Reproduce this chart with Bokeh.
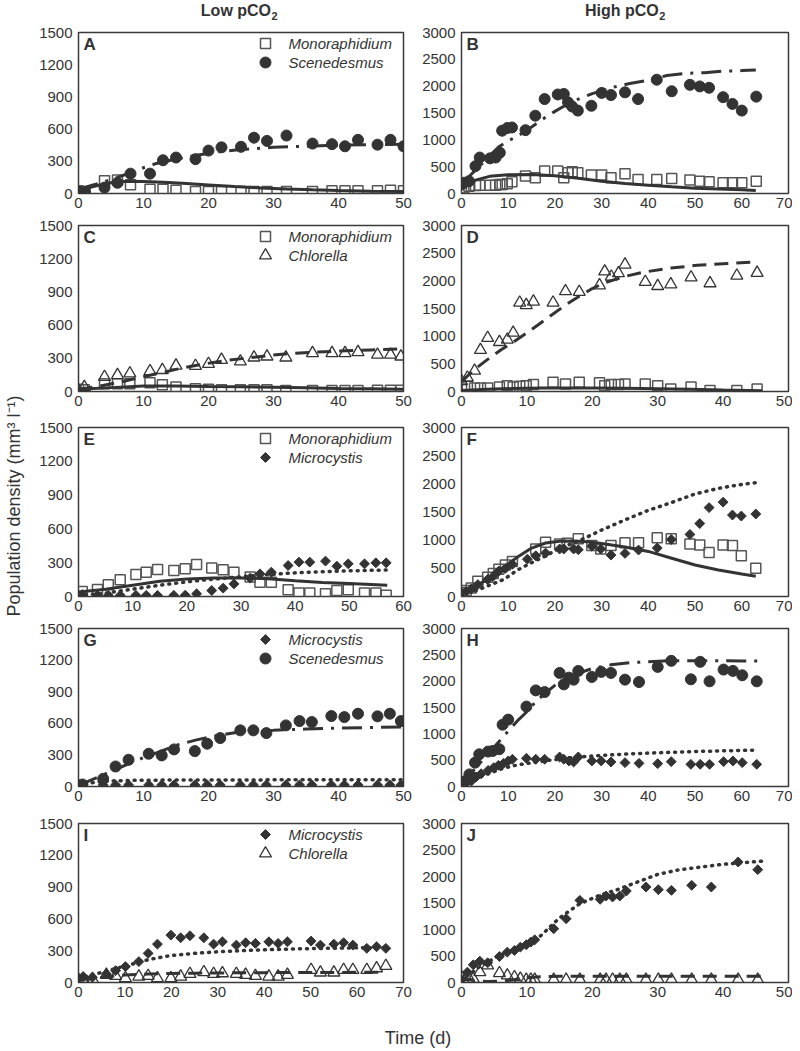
import math
from bokeh.plotting import figure
from bokeh.models import Range1d, SingleIntervalTicker, Label
from bokeh.layouts import row, column
from bokeh.embed import file_html
from bokeh.resources import INLINE

FONT = "Liberation Sans"
INK = "#333333"
SQ = "#555555"

# ---------------- Panel A (Low pCO2: Monoraphidium + Scenedesmus) ----------------
a_x = [0, 1, 4, 6, 8, 11, 13, 15, 18, 20, 22, 25, 27, 29, 32, 36, 39, 41, 43, 46, 48, 50]
a_scen_y = [20, 10, 55, 100, 185, 185, 310, 335, 320, 400, 430, 435, 520, 490, 540, 465, 460, 440, 500, 455, 500, 440]
a_mono_y = [25, 15, 118, 125, 81, 40, 40, 31, 19, 19, 19, 19, 19, 19, 19, 19, 25, 25, 25, 25, 31, 25]
a_scen_fit_x = [0, 2, 4, 6, 8, 10, 12, 15, 18, 21, 25, 30, 35, 40, 45, 50]
a_scen_fit_y = [40, 75, 110, 150, 195, 240, 280, 320, 355, 385, 410, 430, 440, 450, 455, 460]
a_mono_fit_x = [0, 2, 4, 6, 8, 10, 13, 16, 20, 24, 28, 32, 36, 40, 45, 50]
a_mono_fit_y = [30, 60, 90, 110, 115, 112, 105, 95, 80, 65, 52, 42, 34, 28, 22, 18]

# ---------------- Panel B (High pCO2: Monoraphidium + Scenedesmus) ----------------
b_x = [0, 0.5, 1.6, 3, 3.9, 6.1, 7.3, 8.2, 8.7, 9.8, 10.8, 13.7, 15.8, 17.8, 20.6, 21.9, 22.8,
       23.7, 24.9, 27.8, 30, 32, 35, 37.8, 41.8, 45, 48.9, 51, 53, 56, 58, 60, 63.1]
b_scen_y = [170, 200, 230, 510, 670, 655, 670, 760, 1170, 1220, 1230, 1180, 1450, 1760, 1845, 1855, 1700,
            1620, 1545, 1635, 1875, 1835, 1885, 1760, 2120, 1905, 2025, 1995, 1970, 1795, 1670, 1545, 1805]
b_mono_y = [75, 105, 135, 150, 155, 155, 155, 170, 170, 180, 220, 325, 295, 420, 420, 295, 385,
            405, 385, 345, 345, 295, 370, 260, 260, 280, 250, 230, 220, 200, 200, 200, 230]
b_scen_fit_x = [0, 2, 4, 6, 8, 10, 12, 14, 16, 18, 20, 22, 25, 28, 32, 36, 40, 44, 48, 52, 56, 60, 63]
b_scen_fit_y = [150, 350, 520, 700, 870, 980, 1070, 1180, 1300, 1420, 1530, 1630, 1760, 1860, 1970, 2050,
                2110, 2200, 2240, 2250, 2280, 2290, 2300]
b_mono_fit_x = [0, 3, 6, 10, 15, 20, 25, 30, 35, 40, 45, 50, 55, 60, 63]
b_mono_fit_y = [120, 250, 320, 350, 355, 330, 285, 230, 185, 155, 125, 100, 85, 70, 55]

# ---------------- Panel C (Low pCO2: Monoraphidium + Chlorella) ----------------
c_x = [0, 0.9, 4, 6, 7.9, 11, 12.9, 15, 18, 20, 22, 24.9, 27, 29, 31.9, 36, 39, 41, 43, 46, 48, 49.6]
c_chlo_y = [10, 40, 132, 148, 163, 184, 194, 234, 231, 249, 286, 271, 307, 316, 307, 347, 347, 347, 356, 332, 332, 316]
c_mono_y = [20, 15, 70, 70, 70, 80, 60, 40, 25, 20, 15, 15, 15, 15, 10, 10, 10, 10, 10, 12, 12, 12]
c_chlo_fit_x = [0, 3, 6, 9, 12, 15, 18, 21, 24, 27, 30, 33, 36, 40, 45, 50]
c_chlo_fit_y = [20, 45, 80, 120, 160, 200, 235, 265, 290, 310, 330, 345, 355, 365, 375, 385]
c_mono_fit_x = [0, 5, 10, 15, 20, 25, 30, 35, 40, 45, 50]
c_mono_fit_y = [20, 35, 50, 50, 45, 42, 38, 34, 28, 24, 20]

# ---------------- Panel D (High pCO2: Monoraphidium + Chlorella) ----------------
d_x = [0, 0.9, 2, 2.9, 4, 5.8, 7, 7.9, 8.9, 9.9, 11, 14, 15.9, 18, 21.1, 21.9, 22.9, 24, 25, 28.1,
       30, 32, 35.1, 38, 42.1, 45.2]
d_chlo_y = [187, 250, 375, 750, 969, 894, 937, 1062, 1606, 1562, 1625, 1606, 1812, 1800, 1919, 2169,
            2075, 2137, 2294, 1981, 1906, 1937, 2062, 1956, 2094, 2144]
d_mono_y = [62, 94, 62, 62, 62, 81, 106, 81, 94, 106, 125, 169, 137, 169, 156, 106, 125, 125, 137, 137,
            106, 44, 81, 19, 19, 44]
d_chlo_fit_x = [0, 2, 4, 6, 8, 10, 12, 14, 16, 18, 20, 22, 25, 28, 32, 36, 40, 45]
d_chlo_fit_y = [180, 400, 580, 750, 900, 1060, 1230, 1400, 1570, 1720, 1860, 1970, 2080, 2160, 2230, 2280, 2310, 2340]
d_mono_fit_x = [0, 4, 8, 12, 16, 20, 25, 30, 35, 40, 46]
d_mono_fit_y = [20, 40, 55, 62, 65, 65, 60, 50, 40, 25, 15]

# ---------------- Panel E (Low pCO2: Monoraphidium + Microcystis) ----------------
e_x = [0.7, 3.5, 5.5, 7.7, 10.6, 12.5, 14.6, 17.6, 19.7, 21.8, 24.6, 26.7, 28.7, 31.7, 33.5, 35.6,
       38.7, 40.7, 42.7, 45.6, 47.7, 49.8, 52.8, 54.9, 56.8]
e_mono_y = [44, 62, 104, 148, 195, 216, 240, 231, 246, 284, 252, 237, 216, 172, 127, 127, 59, 30, 30,
            24, 53, 59, 30, 30, 12]
e_micro_y = [18, 10, 10, 10, 10, 10, 10, 10, 12, 24, 53, 74, 112, 163, 201, 216, 275, 305, 305, 314,
             269, 290, 290, 299, 299]
e_mono_fit_x = [0, 5, 10, 15, 20, 25, 30, 35, 40, 45, 50, 57]
e_mono_fit_y = [40, 65, 100, 135, 155, 165, 165, 158, 140, 125, 115, 100]
e_micro_fit_x = [0, 5, 10, 15, 20, 25, 30, 35, 40, 45, 50, 57]
e_micro_fit_y = [10, 30, 65, 100, 130, 155, 175, 195, 210, 220, 228, 235]

# ---------------- Panel F (High pCO2: Monoraphidium + Microcystis) ----------------
f_mono_x = [0, 1, 2.1, 3.5, 5.6, 6.8, 8, 9.4, 10.9, 15.9, 18, 21, 22.6, 25, 27.9, 29.8, 32, 35, 37.9,
            41.9, 44.9, 48.9, 51, 53, 56, 58, 59.9, 63]
f_mono_y = [72, 108, 151, 271, 343, 410, 482, 560, 620, 843, 964, 934, 946, 1024, 904, 843, 904, 952, 952,
            1042, 1024, 934, 916, 783, 916, 904, 723, 500]
f_micro_x = [0, 1, 2.1, 3.5, 5.6, 6.8, 8, 9.4, 10.9, 14.1, 15.9, 18, 21, 21.9, 24, 25, 27.9, 29.8, 32,
             35, 37.9, 41.9, 44.9, 48.9, 51, 53, 56, 58, 59.9, 63]
f_micro_y = [72, 90, 133, 211, 301, 361, 452, 500, 572, 663, 723, 771, 843, 843, 843, 831, 892, 843, 735,
             765, 825, 861, 1012, 1102, 1295, 1578, 1675, 1446, 1428, 1464]
f_mono_fit_x = [0, 3, 6, 9, 12, 15, 18, 21, 24, 27, 30, 35, 40, 45, 50, 55, 60, 63]
f_mono_fit_y = [80, 180, 330, 520, 700, 860, 950, 980, 985, 970, 940, 880, 800, 680, 560, 470, 400, 360]
f_micro_fit_x = [0, 3, 6, 9, 12, 15, 18, 21, 24, 27, 30, 35, 40, 45, 50, 55, 60, 63]
f_micro_fit_y = [60, 100, 200, 300, 470, 600, 720, 860, 950, 1060, 1180, 1360, 1530, 1670, 1820, 1920, 1990, 2020]

# ---------------- Panel G (Low pCO2: Microcystis + Scenedesmus) ----------------
g_x = [0, 0.6, 3.8, 5.7, 7.7, 10.8, 12.8, 14.7, 17.9, 19.8, 21.8, 24.9, 26.9, 28.9, 31.9, 34, 35.9,
       38.9, 40.9, 43, 46, 47.9, 49.6]
g_scen_y = [10, 19, 73, 190, 254, 311, 295, 352, 336, 406, 460, 533, 533, 507, 580, 621, 612, 669, 659,
            691, 666, 691, 621]
g_micro_y = [10, 15, 15, 15, 15, 15, 15, 15, 15, 15, 15, 15, 15, 15, 15, 15, 15, 15, 15, 15, 15, 15, 15]
g_scen_fit_x = [0, 3, 6, 9, 12, 15, 18, 21, 24, 27, 30, 35, 40, 45, 50]
g_scen_fit_y = [10, 90, 170, 250, 320, 390, 440, 480, 510, 530, 535, 545, 555, 560, 565]
g_micro_fit_x = [0, 2, 4, 6, 10, 20, 30, 40, 50]
g_micro_fit_y = [10, 35, 50, 55, 60, 62, 63, 63, 63]

# ---------------- Panel H (High pCO2: Microcystis + Scenedesmus) ----------------
h_scen_x = [0, 0.8, 1.7, 2.9, 3.8, 5.7, 6.7, 8.1, 8.8, 10, 13.9, 15.9, 17.8, 21, 21.9, 23, 24, 25, 27.9,
            29.9, 32, 35, 38, 42, 44.9, 49.1, 51.1, 53.1, 56.1, 58.1, 60.1, 63.2]
h_scen_y = [51, 102, 230, 453, 612, 663, 676, 708, 1174, 1270, 1518, 1825, 1793, 2156, 1939, 2067, 2029,
            2194, 2080, 2176, 2156, 2029, 1984, 2271, 2386, 2035, 2367, 1997, 2220, 2195, 2112, 1997]
h_micro_x = [0, 1, 2.1, 3.1, 4.2, 5.7, 6.9, 7.9, 9, 10, 10.9, 13.9, 15.9, 17.8, 21, 21.9, 23, 24, 25,
             27.9, 29.9, 32, 35, 38, 42, 44.9, 49.1, 51.1, 53.1, 56.1, 58.1, 60.1, 63.2]
h_micro_y = [51, 70, 102, 179, 242, 306, 357, 402, 440, 485, 517, 536, 517, 517, 561, 517, 485, 466, 561,
             485, 485, 466, 453, 440, 434, 472, 421, 421, 421, 472, 485, 453, 421]
h_scen_fit_x = [0, 2, 4, 6, 8, 10, 12, 14, 16, 18, 20, 22, 25, 28, 32, 36, 40, 45, 50, 55, 60, 64]
h_scen_fit_y = [40, 250, 450, 650, 850, 1050, 1250, 1420, 1620, 1780, 1920, 2030, 2150, 2240, 2310, 2350,
                2370, 2390, 2390, 2390, 2385, 2380]
h_micro_fit_x = [0, 3, 6, 9, 12, 15, 18, 21, 25, 30, 35, 40, 45, 50, 55, 60, 63]
h_micro_fit_y = [50, 150, 250, 350, 410, 450, 490, 520, 560, 590, 615, 635, 650, 665, 675, 685, 690]

# ---------------- Panel I (Low pCO2: Microcystis + Chlorella) ----------------
i_x = [0, 1, 3, 6, 8, 10.1, 13, 15, 17, 19.9, 22, 24, 27, 29.1, 31, 34, 36, 38.1, 41, 43, 45, 50.1,
       52.1, 55, 57.1, 59.1, 62.1, 64.2, 66.2]
i_micro_y = [31, 56, 50, 81, 112, 150, 197, 275, 362, 447, 422, 441, 422, 362, 384, 353, 375, 369, 384,
             369, 384, 391, 353, 362, 375, 353, 322, 337, 322]
i_chlo_y = [25, 31, 31, 72, 62, 41, 56, 62, 41, 41, 56, 81, 97, 81, 87, 81, 72, 62, 56, 56, 72, 119, 94,
            94, 119, 119, 119, 134, 156]
i_micro_fit_x = [0, 5, 10, 15, 20, 25, 30, 35, 40, 45, 50, 55, 60, 66]
i_micro_fit_y = [40, 95, 155, 215, 255, 275, 290, 300, 308, 315, 320, 323, 327, 330]
i_chlo_fit_x = [0, 3, 6, 10, 15, 20, 25, 30, 35, 40, 45, 50, 55, 60, 66]
i_chlo_fit_y = [25, 35, 55, 70, 80, 85, 88, 90, 92, 93, 94, 95, 95, 96, 96]

# ---------------- Panel J (High pCO2: Microcystis + Chlorella) ----------------
j_x = [0, 0.9, 1.8, 2.8, 4, 5.8, 7, 8.1, 9, 9.9, 10.6, 11.2, 14.1, 16, 18.1, 21.2, 22.1, 23.1, 24.2,
       25.2, 28.2, 30.1, 32.1, 35.2, 38.2, 42.3, 45.3]
j_micro_y = [50, 195, 334, 403, 372, 491, 573, 605, 668, 712, 762, 806, 1014, 1203, 1550, 1569, 1632, 1613,
             1632, 1726, 1802, 1751, 1739, 1833, 1802, 2274, 2129]
j_chlo_y = [101, 132, 69, 195, 321, 176, 132, 101, 69, 50, 50, 50, 50, 50, 50, 50, 50, 50, 50, 50, 50,
            50, 50, 50, 50, 50, 50]
j_micro_fit_x = [0, 3, 6, 9, 12, 15, 18, 21, 24, 27, 30, 33, 36, 40, 43, 46]
j_micro_fit_y = [40, 320, 520, 670, 870, 1220, 1480, 1640, 1760, 1900, 2040, 2120, 2170, 2230, 2260, 2290]
j_chlo_fit_x = [0, 1, 2, 4, 6, 8, 10, 12, 15, 20, 25, 30, 35, 40, 46]
j_chlo_fit_y = [100, 60, 30, 20, 25, 50, 90, 110, 118, 120, 120, 120, 120, 120, 120]

# ---------------- Text ----------------
col_titles = ["Low pCO", "High pCO"]   # each followed by a subscript "2"
col_sub = "2"
y_title = "Population density  (mm\u00b3 l\u207b\u00b9)"
x_title = "Time (d)"
names = {"mono": "Monoraphidium", "scen": "Scenedesmus", "chlo": "Chlorella", "micro": "Microcystis"}

# ---------------- Styles ----------------
MARK = {
    "mono": dict(marker="square", size=10, fill_color=None, line_color=SQ, line_width=1.5),
    "scen": dict(marker="circle", size=11, fill_color=INK, line_color=INK, line_width=1),
    "chlo": dict(marker="triangle", size=12, fill_color=None, line_color=INK, line_width=1.3),
    "micro": dict(marker="square", size=7, angle=math.pi / 4, fill_color=INK, line_color=INK, line_width=1),
}
FIT = {
    "mono": dict(line_dash="solid", line_width=3),
    "scen": dict(line_dash="20 8 3 8", line_width=3),
    "chlo": dict(line_dash="14 8", line_width=3),
    "micro": dict(line_dash="1 6", line_width=3.5, line_cap="round"),
}

LEFT = dict(w=383, bl=43, br=15)
RIGHT = dict(w=374, bl=43, br=4)
# (border top, frame height, border bottom) per row
ROWS = [(10, 161, 22), (10, 166, 26), (10, 169, 22), (10, 158, 27), (10, 159, 26)]
TOP_H = 22
BOTTOM_H = 43
TITLE_PX = 16
SUB_PX = 11
TITLE_EM = [4.389, 4.611]   # advance widths (em) of "Low pCO" / "High pCO" in bold Arial metrics


def panel(letter, col, ri, xmax, ymax, ystep, points, fits, legend=None):
    c = LEFT if col == 0 else RIGHT
    bt, fh, bb = ROWS[ri]
    fw = c["w"] - c["bl"] - c["br"]
    p = figure(width=c["w"], height=bt + fh + bb, x_range=Range1d(0, xmax), y_range=Range1d(0, ymax),
               output_backend="svg", toolbar_location=None, title=None,
               min_border_left=c["bl"], min_border_right=c["br"], min_border_top=bt, min_border_bottom=bb)
    p.xaxis.ticker = SingleIntervalTicker(interval=10)
    p.yaxis.ticker = SingleIntervalTicker(interval=ystep)
    for ax in p.axis:
        ax.axis_line_color = None
        ax.major_tick_line_color = None
        ax.minor_tick_line_color = None
        ax.major_tick_out = 0
        ax.major_tick_in = 0
        ax.minor_tick_out = 0
        ax.major_label_text_font = FONT
        ax.major_label_text_font_size = "15px"
        ax.major_label_text_color = INK
    p.xaxis.major_label_standoff = 4
    p.yaxis.major_label_standoff = 6
    p.xgrid.visible = False
    p.ygrid.visible = False
    p.outline_line_color = "#3a3a3a"
    p.outline_line_width = 1.5
    p.background_fill_color = "white"

    for xs, ys, kind in points:
        p.scatter(xs, ys, **MARK[kind])
    for xs, ys, kind in fits:
        p.line(xs, ys, line_color=INK, **FIT[kind])

    p.add_layout(Label(x=5, y=fh - 2, x_units="screen", y_units="screen", text=letter,
                       text_font=FONT, text_font_style="bold", text_font_size="17px",
                       text_color=INK, text_baseline="top", text_align="left"))
    if legend:
        for i, kind in enumerate(legend):
            off = 11 + 19 * i
            p.scatter([xmax * 187.0 / fw], [ymax * (fh - off) / fh], **MARK[kind])
            p.add_layout(Label(x=210, y=fh - off, x_units="screen", y_units="screen", text=names[kind],
                               text_font=FONT, text_font_style="italic", text_font_size="15px",
                               text_color=INK, text_baseline="middle", text_align="left"))
    return p


pA = panel("A", 0, 0, 50, 1500, 300,
           [(a_x, a_mono_y, "mono"), (a_x, a_scen_y, "scen")],
           [(a_mono_fit_x, a_mono_fit_y, "mono"), (a_scen_fit_x, a_scen_fit_y, "scen")],
           ["mono", "scen"])
pB = panel("B", 1, 0, 70, 3000, 500,
           [(b_x, b_mono_y, "mono"), (b_x, b_scen_y, "scen")],
           [(b_mono_fit_x, b_mono_fit_y, "mono"), (b_scen_fit_x, b_scen_fit_y, "scen")])
pC = panel("C", 0, 1, 50, 1500, 300,
           [(c_x, c_mono_y, "mono"), (c_x, c_chlo_y, "chlo")],
           [(c_mono_fit_x, c_mono_fit_y, "mono"), (c_chlo_fit_x, c_chlo_fit_y, "chlo")],
           ["mono", "chlo"])
pD = panel("D", 1, 1, 50, 3000, 500,
           [(d_x, d_mono_y, "mono"), (d_x, d_chlo_y, "chlo")],
           [(d_mono_fit_x, d_mono_fit_y, "mono"), (d_chlo_fit_x, d_chlo_fit_y, "chlo")])
pE = panel("E", 0, 2, 60, 1500, 300,
           [(e_x, e_mono_y, "mono"), (e_x, e_micro_y, "micro")],
           [(e_mono_fit_x, e_mono_fit_y, "mono"), (e_micro_fit_x, e_micro_fit_y, "micro")],
           ["mono", "micro"])
pF = panel("F", 1, 2, 70, 3000, 500,
           [(f_mono_x, f_mono_y, "mono"), (f_micro_x, f_micro_y, "micro")],
           [(f_mono_fit_x, f_mono_fit_y, "mono"), (f_micro_fit_x, f_micro_fit_y, "micro")])
pG = panel("G", 0, 3, 50, 1500, 300,
           [(g_x, g_micro_y, "micro"), (g_x, g_scen_y, "scen")],
           [(g_micro_fit_x, g_micro_fit_y, "micro"), (g_scen_fit_x, g_scen_fit_y, "scen")],
           ["micro", "scen"])
pH = panel("H", 1, 3, 70, 3000, 500,
           [(h_micro_x, h_micro_y, "micro"), (h_scen_x, h_scen_y, "scen")],
           [(h_micro_fit_x, h_micro_fit_y, "micro"), (h_scen_fit_x, h_scen_fit_y, "scen")])
pI = panel("I", 0, 4, 70, 1500, 300,
           [(i_x, i_micro_y, "micro"), (i_x, i_chlo_y, "chlo")],
           [(i_micro_fit_x, i_micro_fit_y, "micro"), (i_chlo_fit_x, i_chlo_fit_y, "chlo")],
           ["micro", "chlo"])
pJ = panel("J", 1, 4, 50, 3000, 500,
           [(j_x, j_micro_y, "micro"), (j_x, j_chlo_y, "chlo")],
           [(j_micro_fit_x, j_micro_fit_y, "micro"), (j_chlo_fit_x, j_chlo_fit_y, "chlo")])


def strip(w, h):
    s = figure(width=w, height=h, x_range=Range1d(0, w), y_range=Range1d(0, h),
               output_backend="svg", toolbar_location=None, title=None,
               x_axis_type=None, y_axis_type=None, min_border=0)
    s.grid.visible = False
    s.outline_line_color = None
    return s


body_h = sum(bt + fh + bb for bt, fh, bb in ROWS)
full_w = 35 + LEFT["w"] + RIGHT["w"]

# column titles: main text + subscript "2", vertically placed by their middles
top = strip(full_w, TOP_H)
for txt, cx, em in zip(col_titles, [238.5, 624.5], TITLE_EM):
    w_main = em * TITLE_PX
    w_sub = 0.556 * SUB_PX
    x0 = cx - (w_main + w_sub) / 2
    top.add_layout(Label(x=x0, y=TOP_H - 10, x_units="screen", y_units="screen", text=txt,
                         text_font=FONT, text_font_style="bold", text_font_size=f"{TITLE_PX}px",
                         text_color=INK, text_align="left", text_baseline="middle"))
    top.add_layout(Label(x=x0 + w_main + 0.5, y=TOP_H - 15.5, x_units="screen", y_units="screen",
                         text=col_sub, text_font=FONT, text_font_style="bold",
                         text_font_size=f"{SUB_PX}px", text_color=INK, text_align="left",
                         text_baseline="middle"))

ystrip = strip(35, body_h)
ystrip.add_layout(Label(x=13, y=TOP_H + body_h - 503, x_units="screen", y_units="screen", text=y_title,
                        text_font=FONT, text_font_size="18px", text_color=INK, angle=math.pi / 2,
                        text_align="center", text_baseline="middle"))

bottom = strip(full_w, BOTTOM_H)
bottom.add_layout(Label(x=417.5, y=14, x_units="screen", y_units="screen", text=x_title, text_font=FONT,
                        text_font_size="18px", text_color=INK, text_align="center",
                        text_baseline="middle"))

body = column(row(pA, pB), row(pC, pD), row(pE, pF), row(pG, pH), row(pI, pJ))
layout = column(top, row(ystrip, body), bottom)

open("out.html", "w").write(file_html(layout, INLINE))
